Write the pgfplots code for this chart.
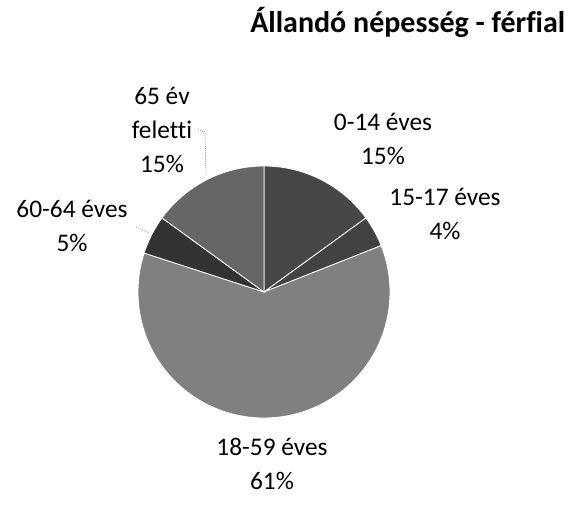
\documentclass[border=0pt]{standalone}
\usepackage{pgfplots}
\pgfplotsset{compat=1.18}
\usepackage{pgfplotstable}
\usepackage{fontspec}
\setmainfont{Carlito}[Ligatures=NoCommon]

\definecolor{slice0}{gray}{0.28}
\definecolor{slice1}{gray}{0.26}
\definecolor{slice2}{gray}{0.50}
\definecolor{slice3}{gray}{0.20}
\definecolor{slice4}{gray}{0.40}

\pgfplotstableread{
label value
0-14 15
15-17 4
18-59 61
60-64 5
65+ 15
}\piedata

\begin{document}
\begin{tikzpicture}
\begin{scope}[x=0.75pt,y=-0.75pt]
\useasboundingbox (0,0) rectangle (586,504);
\end{scope}
\begin{axis}[at={(198pt,-219pt)}, anchor=center, width=189pt, height=189pt,
  scale only axis, xmin=-1, xmax=1, ymin=-1, ymax=1, hide axis, clip=false]
\gdef\cum{0}
\pgfplotsforeachungrouped \i in {0,...,4}{%
  \pgfplotstablegetelem{\i}{value}\of\piedata
  \pgfmathsetmacro\a{90-3.6*\cum}%
  \pgfmathsetmacro\b{90-3.6*(\cum+\pgfplotsretval)}%
  \pgfmathsetmacro\newcum{\cum+\pgfplotsretval}%
  \xdef\cum{\newcum}%
  \edef\cmd{\noexpand\addplot[fill=slice\i, draw=white, line width=0.6pt, domain=\b:\a, samples=90, variable=\noexpand\t] ({cos(\noexpand\t)},{sin(\noexpand\t)}) -- (axis cs:0,0) -- cycle;}%
  \cmd
}
\end{axis}
\begin{scope}[x=0.75pt,y=-0.75pt, every node/.style={font=\fontsize{19}{25.5}\selectfont, align=center, text=black, inner sep=0pt}]
\node at (162,130) {65 év\\feletti\\15\%};
\node at (383,139) {0-14 éves\\15\%};
\node at (445,214) {15-17 éves\\4\%};
\node at (72,226) {60-64 éves\\5\%};
\node at (272,464) {18-59 éves\\61\%};
\node[font=\bfseries\fontsize{22.5}{27}\selectfont, anchor=base west] at (250,32) {Állandó népesség - férfial};
\draw[gray, densely dotted, line width=0.6pt] (198,130) -- (205,132) -- (206,176);
\draw[gray, densely dotted, line width=0.6pt] (136,227) -- (149,233);
\end{scope}
\end{tikzpicture}
\end{document}
